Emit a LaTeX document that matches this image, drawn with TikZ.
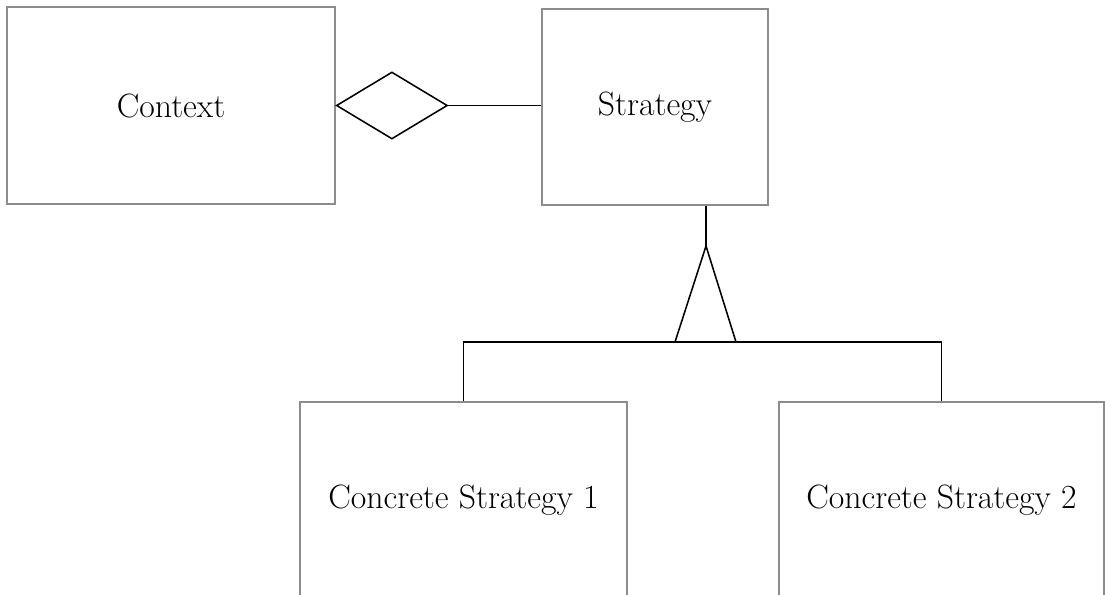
\documentclass[tikz,border=0pt]{standalone}
\usetikzlibrary{shapes.geometric}

\tikzset{
  classbox/.style={draw=black!45, line width=0.8pt, inner sep=0pt,
    font=\fontsize{24}{28}\selectfont},
  link/.style={draw=black, line width=1.1pt}
}

\begin{document}
\begin{tikzpicture}[x=0.025cm, y=-0.025cm]
\clip (0,0) rectangle (1105,594);

\node[classbox, minimum width=8.2cm, minimum height=4.925cm] (CTX) at (171,105.5) {Context};
\node[classbox, minimum width=5.65cm, minimum height=4.9cm] (STR) at (655,107) {Strategy};
\node[classbox, minimum width=8.175cm, minimum height=4.925cm] (CS1) at (463.5,500.5) {Concrete Strategy 1};
\node[classbox, minimum width=8.125cm, minimum height=4.925cm] (CS2) at (941.5,500.5) {Concrete Strategy 2};

% aggregation
\node[diamond, draw, line width=1.1pt, inner sep=0pt, aspect=1.65,
  minimum width=2.775cm, minimum height=1.675cm, anchor=west] (AGG) at (CTX.east) {};
\draw[link] (AGG.east) -- (AGG.east -| STR.west);

% inheritance
\coordinate (TIP) at (706,246);
\coordinate (TL) at (675,342);
\coordinate (TR) at (736,342);
\draw[link] (STR.south -| TIP) -- (TIP);
\draw[link, line join=miter] (TIP) -- (TL) -- (TR) -- cycle;
\draw[link] (CS1.north) |- (TL);
\draw[link] (CS2.north) |- (TR);
\end{tikzpicture}
\end{document}
